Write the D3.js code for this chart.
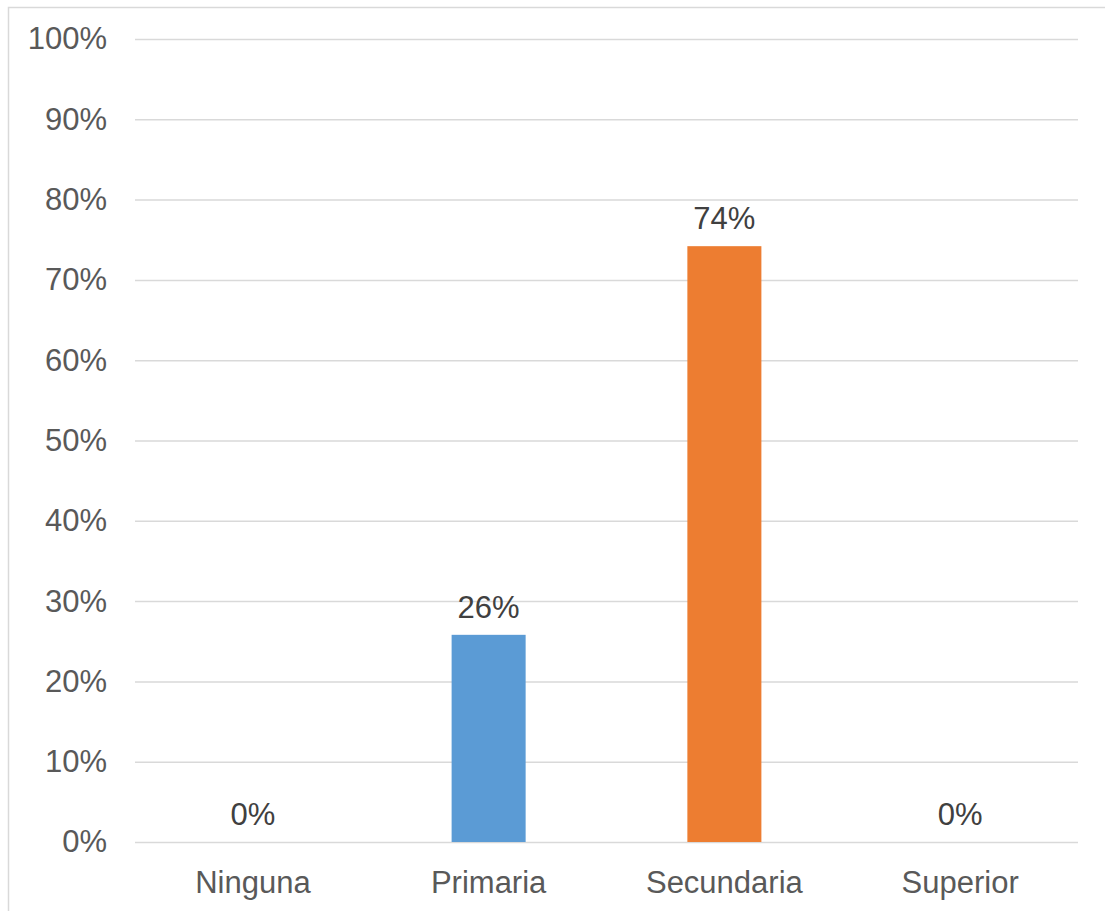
<!DOCTYPE html>
<html>
<head>
<meta charset="utf-8">
<script src="https://cdn.jsdelivr.net/npm/d3@7/dist/d3.min.js"></script>
<style>
  html, body { margin: 0; padding: 0; background: #ffffff; }
  svg { display: block; font-family: "Liberation Sans", Arial, sans-serif; }
</style>
</head>
<body>
<svg id="chart" width="1105" height="911"></svg>
<script>
// Education level shares
const categories = ["Ninguna", "Primaria", "Secundaria", "Superior"];
const shares = [0, 0.258, 0.742, 0];
const barColors = ["#5B9BD5", "#5B9BD5", "#ED7D31", "#ED7D31"];
const yTicks = [0, 0.1, 0.2, 0.3, 0.4, 0.5, 0.6, 0.7, 0.8, 0.9, 1.0];

const svg = d3.select("#chart");
const W = 1105, H = 911;
const plot = { left: 135, right: 1078, top: 39, bottom: 842 };
const fontSize = "31px";

// outer chart frame
svg.append("rect")
  .attr("x", 8.5).attr("y", 7.5)
  .attr("width", W + 10).attr("height", H + 10)
  .attr("fill", "#ffffff")
  .attr("stroke", "#d9d9d9").attr("stroke-width", 1.5);

const x = d3.scaleBand()
  .domain(categories)
  .range([plot.left, plot.right])
  .paddingInner(0.686)
  .paddingOuter(0.343);

const y = d3.scaleLinear()
  .domain([0, 1])
  .range([plot.bottom, plot.top]);

const fmt = d3.format(".0%");

// horizontal gridlines + y labels
const yAxis = d3.axisLeft(y)
  .tickValues(yTicks)
  .tickFormat(fmt)
  .tickSize(-(plot.right - plot.left))
  .tickPadding(28);

const gy = svg.append("g")
  .attr("transform", `translate(${plot.left},0)`)
  .call(yAxis);
gy.select(".domain").remove();
gy.selectAll(".tick line")
  .attr("stroke", "#d9d9d9").attr("stroke-width", 1.5);
gy.selectAll(".tick text")
  .attr("fill", "#595959")
  .style("font-size", fontSize)
  .attr("font-family", "Liberation Sans, Arial, sans-serif");

// bars
svg.append("g").selectAll("rect")
  .data(categories)
  .join("rect")
  .attr("x", d => x(d))
  .attr("width", x.bandwidth())
  .attr("y", (d, i) => y(shares[i]))
  .attr("height", (d, i) => y(0) - y(shares[i]))
  .attr("fill", (d, i) => barColors[i]);

// value labels
svg.append("g").selectAll("text")
  .data(categories)
  .join("text")
  .attr("x", d => x(d) + x.bandwidth() / 2)
  .attr("y", (d, i) => y(shares[i]) - 17)
  .attr("text-anchor", "middle")
  .attr("fill", "#404040")
  .style("font-size", fontSize)
  .text((d, i) => fmt(shares[i]));

// category axis
const xAxis = d3.axisBottom(x).tickSize(0).tickPadding(29);
const gx = svg.append("g")
  .attr("transform", `translate(0,${plot.bottom})`)
  .call(xAxis);
gx.select(".domain").remove();
gx.selectAll(".tick text")
  .attr("fill", "#595959")
  .style("font-size", fontSize)
  .attr("font-family", "Liberation Sans, Arial, sans-serif");
</script>
</body>
</html>
